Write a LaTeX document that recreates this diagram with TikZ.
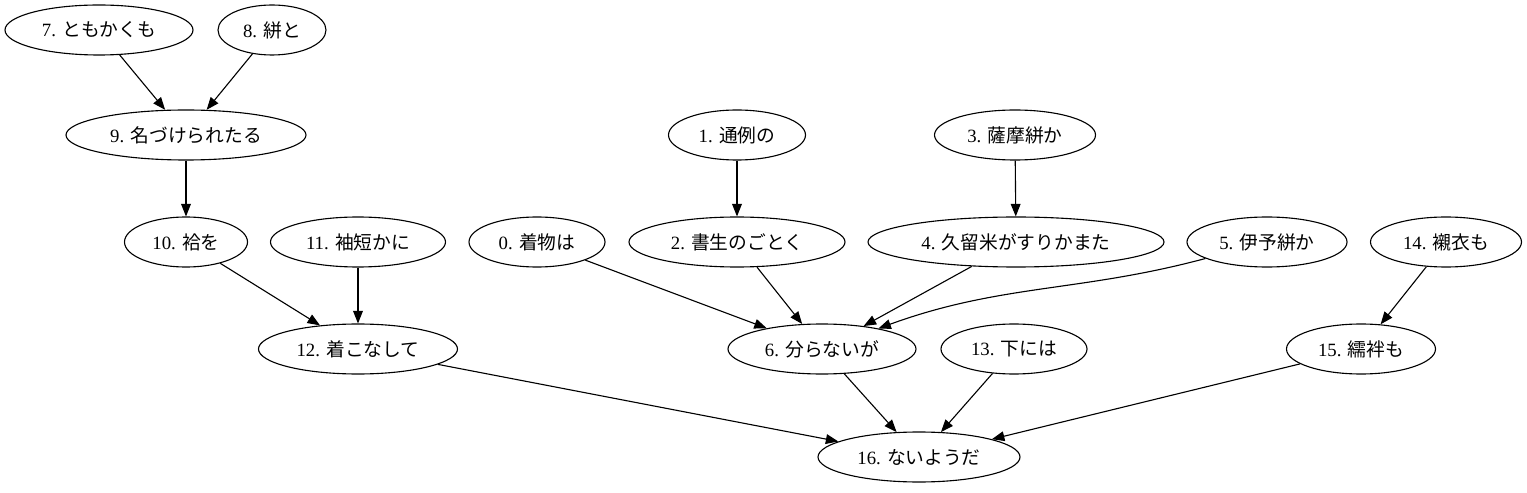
\documentclass[tikz,border=0pt]{standalone}
\usepackage{fontspec}
\setmainfont{Liberation Serif}
\newfontfamily\jp{Noto Sans CJK JP}
\usetikzlibrary{arrows.meta,shapes.geometric}
\begin{document}
\begin{tikzpicture}[x=0.72pt,y=-0.72pt,
  wid/.style={ellipse, draw, line width=0.8pt, inner sep=0pt, minimum height=36pt, minimum width=#1*0.72pt, font=\fontsize{13.5}{16}\selectfont},
  dep/.style={line width=0.8pt, -{Triangle[length=9pt,width=7pt]}}]
\useasboundingbox (0,0) rectangle (1527,493);
\node[wid=188] (wid7) at (99,30){7. {\jp ともかくも}};
\node[wid=108] (wid8) at (272,30){8. {\jp 絣と}};
\node[wid=240] (wid9) at (186,135){9. {\jp 名づけられたる}};
\draw[dep](wid7) -- (wid9);
\draw[dep](wid8) -- (wid9);
\node[wid=123] (wid10) at (186,242){10. {\jp 袷を}};
\draw[dep](wid9) -- (wid10);
\node[wid=175] (wid11) at (358,242){11. {\jp 袖短かに}};
\node[wid=199] (wid12) at (358,349){12. {\jp 着こなして}};
\draw[dep](wid10) -- (wid12);
\draw[dep](wid11) -- (wid12);
\node[wid=137] (wid1) at (737,135){1. {\jp 通例の}};
\node[wid=216] (wid2) at (737,242){2. {\jp 書生のごとく}};
\draw[dep](wid1) -- (wid2);
\node[wid=161] (wid3) at (1015,135){3. {\jp 薩摩絣か}};
\node[wid=296] (wid4) at (1016,242){4. {\jp 久留米がすりかまた}};
\draw[dep](wid3) -- (wid4);
\node[wid=136] (wid0) at (537,242){0. {\jp 着物は}};
\node[wid=160] (wid5) at (1267,242){5. {\jp 伊予絣か}};
\node[wid=188] (wid6) at (822,349){6. {\jp 分らないが}};
\draw[dep](wid0) -- (wid6);
\draw[dep](wid2) -- (wid6);
\draw[dep](wid4) -- (wid6);
\draw[dep](wid5) to[out=195,in=20] (wid6);
\node[wid=151] (wid14) at (1446,242){14. {\jp 襯衣も}};
\node[wid=149] (wid15) at (1361,349){15. {\jp 繻袢も}};
\draw[dep](wid14) -- (wid15);
\node[wid=146] (wid13) at (1014,349){13. {\jp 下には}};
\node[wid=202] (wid16) at (919,457){16. {\jp ないようだ}};
\draw[dep](wid12) -- (wid16);
\draw[dep](wid6) -- (wid16);
\draw[dep](wid13) -- (wid16);
\draw[dep](wid15) -- (wid16);
\end{tikzpicture}
\end{document}
